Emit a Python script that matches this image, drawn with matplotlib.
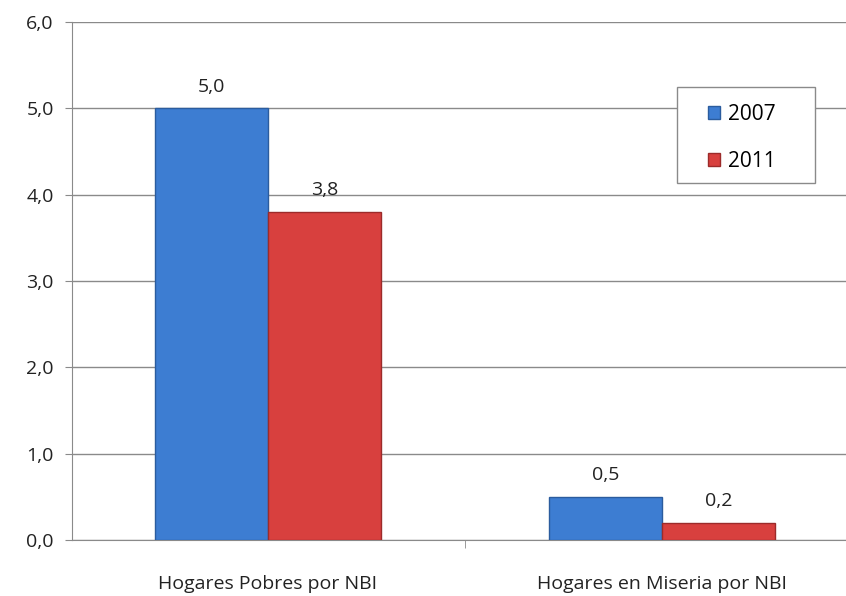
import numpy as np
import matplotlib.pyplot as plt
from matplotlib.patches import Rectangle
from matplotlib.ticker import FixedLocator

# data
categorias = ['Hogares Pobres por NBI', 'Hogares en Miseria por NBI']
anios = ['2007', '2011']
valores_2007 = [5.0, 0.5]
valores_2011 = [3.8, 0.2]

plt.rcParams['font.family'] = ['Open Sans', 'DejaVu Sans']

fig = plt.figure(figsize=(8.46, 5.96), dpi=100)
ax = fig.add_axes([0.085, 0.094, 0.915, 0.869])

x = np.arange(len(categorias))
ancho = 0.287

b1 = ax.bar(x - ancho / 2, valores_2007, ancho, color='#3D7DD2', edgecolor='#2B5C9E',
            linewidth=1.0, label=anios[0], zorder=3)
b2 = ax.bar(x + ancho / 2, valores_2011, ancho, color='#D8403E', edgecolor='#9C2B2A',
            linewidth=1.0, label=anios[1], zorder=3)

# value labels with comma decimal
for barras in (b1, b2):
    for b in barras:
        h = b.get_height()
        ax.annotate(f'{h:.1f}'.replace('.', ','), (b.get_x() + b.get_width() / 2, h),
                    xytext=(0, 9), textcoords='offset points', ha='center', va='bottom',
                    fontsize=14, color='#222222')

ax.set_ylim(0, 6)
ax.set_xlim(-0.497, 1.467)
ax.set_yticks(np.arange(0, 6.1, 1))
ax.set_yticklabels([f'{v:.1f}'.replace('.', ',') for v in np.arange(0, 6.1, 1)],
                   fontsize=14, color='#222222')
ax.yaxis.grid(True, color='#8A8A8A', linewidth=1.0, zorder=0)

ax.set_xticks(x)
ax.set_xticklabels(categorias, fontsize=14, color='#222222')
ax.tick_params(axis='x', which='major', length=0, pad=25)
ax.xaxis.set_minor_locator(FixedLocator([0.5]))
ax.tick_params(axis='x', which='minor', length=6, color='#8A8A8A', direction='out')
ax.tick_params(axis='y', length=5, color='#8A8A8A', direction='out', pad=8)

for s in ('top', 'right'):
    ax.spines[s].set_visible(False)
for s in ('left', 'bottom'):
    ax.spines[s].set_color('#8A8A8A')

# legend box drawn by hand so it can be wider than the entries
caja = Rectangle((0.7817, 0.689), 0.1783, 0.1855, transform=ax.transAxes,
                 facecolor='white', edgecolor='#8A8A8A', linewidth=1.0, zorder=4)
ax.add_patch(caja)
leg = ax.legend(loc='center', bbox_to_anchor=(0.865, 0.776), borderaxespad=0,
                fontsize=15, frameon=False, handlelength=0.6, handleheight=0.6,
                labelspacing=1.25, borderpad=0.3, handletextpad=0.35)
leg.set_zorder(5)

fig.savefig('out.png', dpi=100)
